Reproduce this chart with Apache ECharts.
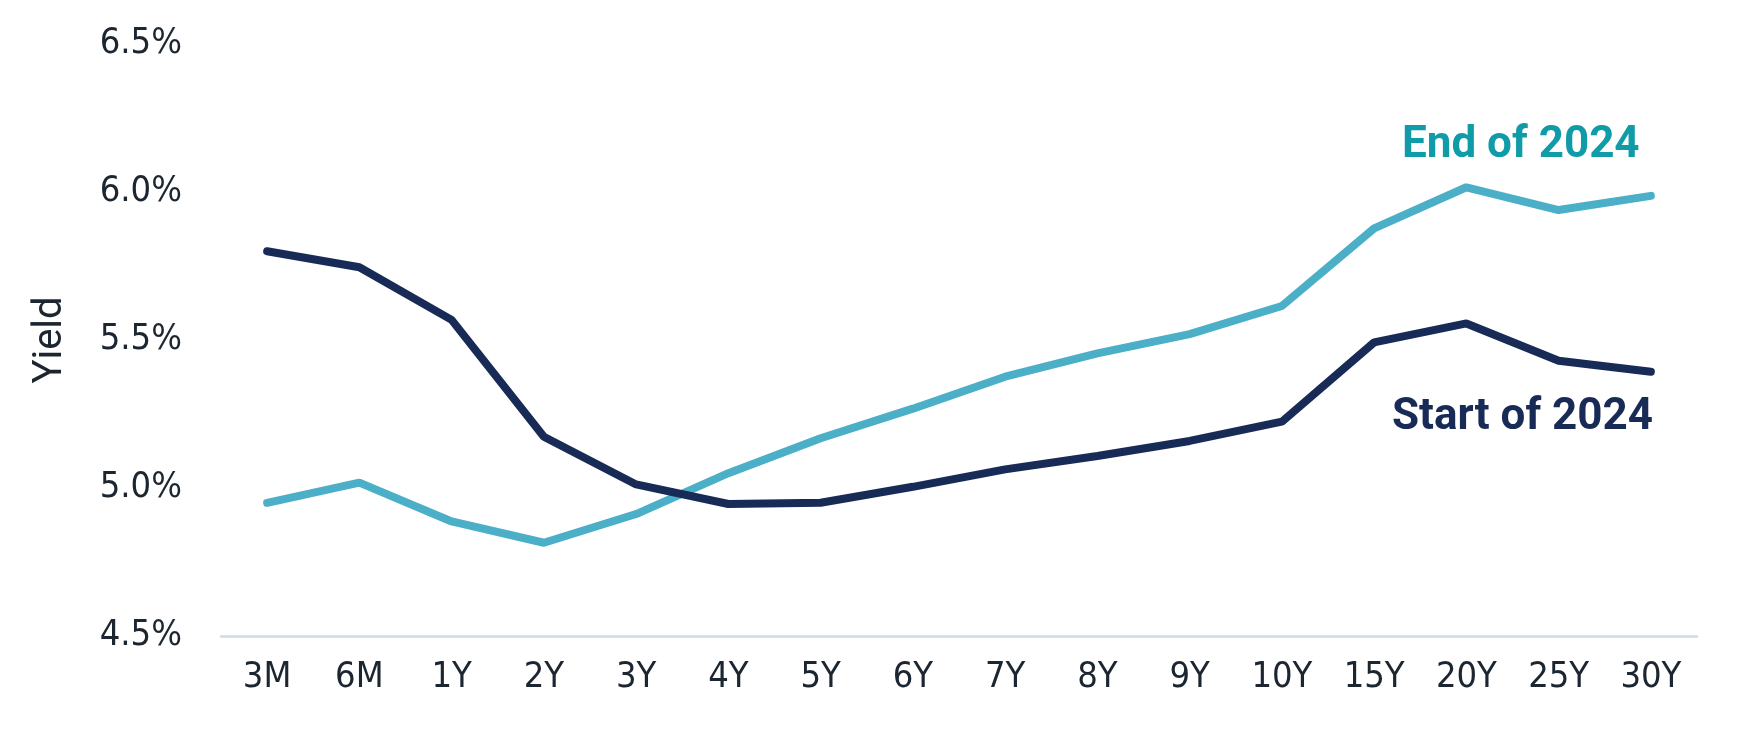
<!DOCTYPE html>
<html>
<head>
<meta charset="utf-8">
<script src="https://cdn.jsdelivr.net/npm/echarts@6/dist/echarts.min.js"></script>
<style>
html,body{margin:0;padding:0;background:#fff;}
#chart{width:1755px;height:733px;}
</style>
</head>
<body>
<div id="chart"></div>
<script>
const categories = ['3M','6M','1Y','2Y','3Y','4Y','5Y','6Y','7Y','8Y','9Y','10Y','15Y','20Y','25Y','30Y'];
const startOf2024 = [5.800, 5.746, 5.568, 5.173, 5.012, 4.946, 4.950, 5.004, 5.063, 5.108, 5.159, 5.224, 5.492, 5.556, 5.430, 5.393];
const endOf2024 = [4.950, 5.018, 4.887, 4.815, 4.912, 5.050, 5.168, 5.268, 5.376, 5.455, 5.520, 5.615, 5.877, 6.016, 5.939, 5.987];
const yTicks = { min: 4.5, max: 6.5, interval: 0.5 };

const NAVY = '#182a56';
const TEAL = '#4bafc8';
const TEAL_TEXT = '#0f9ba8';
const TICK_FONT = "'Liberation Sans Narrow', 'DejaVu Sans Condensed', Roboto, sans-serif";

const chart = echarts.init(document.getElementById('chart'));
chart.setOption({
  animation: false,
  backgroundColor: '#ffffff',
  grid: { left: 221, right: 58, top: 44, bottom: 97 },
  xAxis: {
    type: 'category',
    data: categories,
    boundaryGap: true,
    axisLine: { show: true, lineStyle: { color: '#d3dae1', width: 2.5 } },
    axisTick: { show: false },
    axisLabel: { color: '#1c2630', fontSize: 36, fontFamily: TICK_FONT, margin: 24 }
  },
  yAxis: {
    type: 'value',
    min: yTicks.min, max: yTicks.max, interval: yTicks.interval,
    splitLine: { show: false },
    axisLine: { show: false },
    axisTick: { show: false },
    axisLabel: {
      color: '#1c2630', fontSize: 36, fontFamily: TICK_FONT, margin: 39,
      formatter: v => v.toFixed(1) + '%'
    },
    name: 'Yield',
    nameLocation: 'middle',
    nameGap: 150,
    nameRotate: 90,
    nameTextStyle: { color: '#1c2630', fontSize: 40, fontFamily: 'Roboto, sans-serif' }
  },
  series: [
    {
      name: 'Start of 2024', type: 'line', data: startOf2024,
      symbol: 'none', lineStyle: { color: NAVY, width: 8, cap: 'round' }, z: 3
    },
    {
      name: 'End of 2024', type: 'line', data: endOf2024,
      symbol: 'none', lineStyle: { color: TEAL, width: 8, cap: 'round' }, z: 2
    }
  ],
  graphic: [
    { type: 'text', left: 1402, top: 124,
      style: { text: 'End of 2024', fill: TEAL_TEXT, font: "bold 44px Roboto, sans-serif" } },
    { type: 'text', left: 1392, top: 396,
      style: { text: 'Start of 2024', fill: NAVY, font: "bold 44px Roboto, sans-serif" } }
  ]
});
</script>
</body>
</html>
